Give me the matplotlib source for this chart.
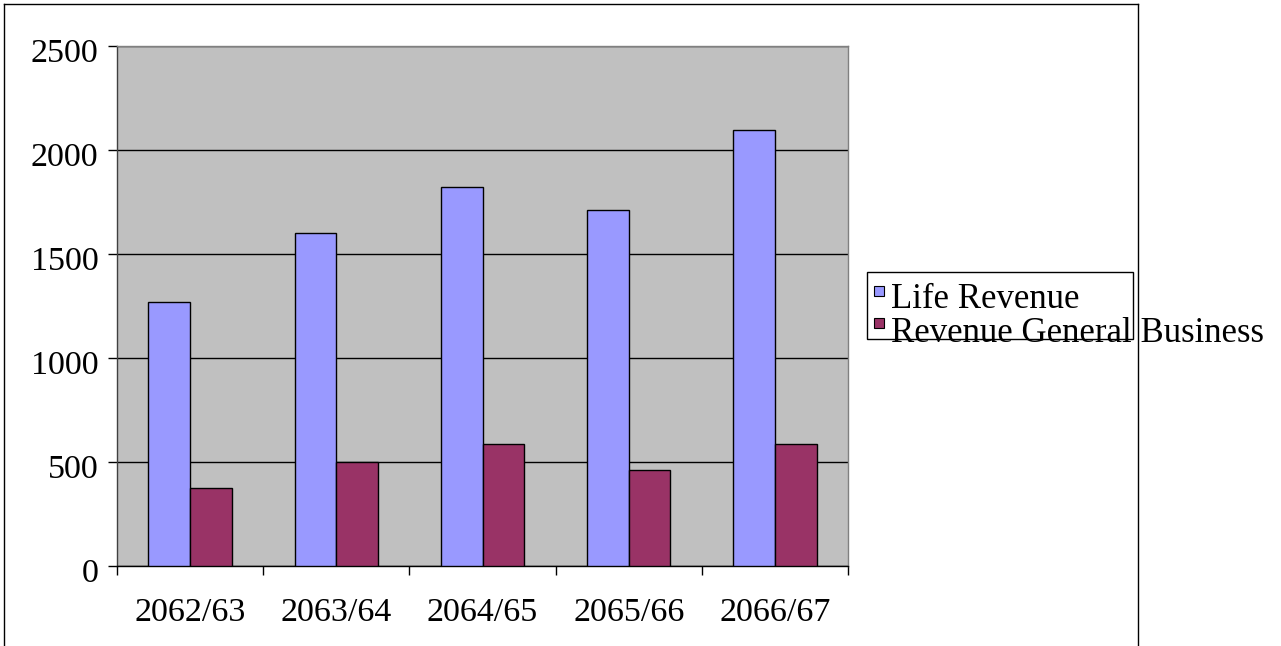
import numpy as np
import matplotlib
matplotlib.use('Agg')
from matplotlib import pyplot as plt
from matplotlib.patches import Rectangle
from matplotlib.lines import Line2D
from matplotlib.transforms import ScaledTranslation

# revenue by fiscal year
years = ['2062/63', '2063/64', '2064/65', '2065/66', '2066/67']
life_revenue = [1268, 1602, 1822, 1712, 2094]
general_revenue = [375, 501, 588, 460, 588]
series_names = ['Life Revenue', 'Revenue General Business']
series_colors = ['#9999FF', '#993366']

plt.rcParams['font.family'] = ['Liberation Serif', 'DejaVu Serif']
FS = 24.5

W, H = 1281, 646
fig = plt.figure(figsize=(W / 100, H / 100), dpi=100)
fig.patch.set_facecolor('white')

ax = fig.add_axes([117 / W, 1 - 566 / H, (848 - 117) / W, (566 - 46) / H])
ax.set_facecolor('#C0C0C0')

x = np.arange(len(years))
bw = 1 / 3.5
ax.bar(x - bw / 2, life_revenue, bw, color=series_colors[0], edgecolor='black', linewidth=1, zorder=3)
ax.bar(x + bw / 2, general_revenue, bw, color=series_colors[1], edgecolor='black', linewidth=1, zorder=3)

ax.set_xlim(-0.5, len(years) - 0.5)
ax.set_ylim(0, 2500)
ax.set_yticks(np.arange(0, 2501, 500))
ax.yaxis.grid(True, color='black', linewidth=1, zorder=1)
ax.set_axisbelow(True)

# category ticks sit between groups, labels centred under them
ax.set_xticks(np.arange(-0.5, len(years), 1))
ax.set_xticklabels([])
ax.set_xticks(x, minor=True)
ax.set_xticklabels(years, minor=True, fontsize=FS)
ax.tick_params(axis='x', which='major', direction='out', length=6.5, width=1, color='black')
ax.tick_params(axis='x', which='minor', length=0, pad=23)
ax.tick_params(axis='y', direction='out', length=6.5, width=1, color='black', labelsize=FS, pad=7)

# value labels sit a little below their gridlines
shift = ScaledTranslation(0, -4 / 100, fig.dpi_scale_trans)
for lab in ax.get_yticklabels():
    lab.set_transform(lab.get_transform() + shift)

ax.spines['top'].set_color('#808080')
ax.spines['right'].set_color('#808080')
ax.spines['left'].set_color('#404040')
ax.spines['bottom'].set_color('black')
for s in ax.spines.values():
    s.set_linewidth(1)

# legend box, text runs past its right edge
fig.add_artist(Rectangle((867 / W, 1 - 339 / H), (1133 - 867) / W, (339 - 272) / H,
                         transform=fig.transFigure, facecolor='white', edgecolor='black', linewidth=1, zorder=5))
for i, name in enumerate(series_names):
    top = 286 + i * 32
    fig.add_artist(Rectangle((874 / W, 1 - (top + 10) / H), 10 / W, 10 / H, transform=fig.transFigure,
                             facecolor=series_colors[i], edgecolor='black', linewidth=0.8, zorder=6))
    fig.text(891 / W, 1 - (308 + i * 34) / H, name, fontsize=25, va='baseline', ha='left', zorder=7)

# outer chart border (open at the bottom)
for xs, ys in [([3.5, 1137.5], [4, 4]), ([3.5, 3.5], [4, 646]), ([1137.5, 1137.5], [4, 646])]:
    fig.add_artist(Line2D([v / W for v in xs], [1 - v / H for v in ys], transform=fig.transFigure,
                          color='black', linewidth=1))

plt.savefig('out.png', dpi=100)
